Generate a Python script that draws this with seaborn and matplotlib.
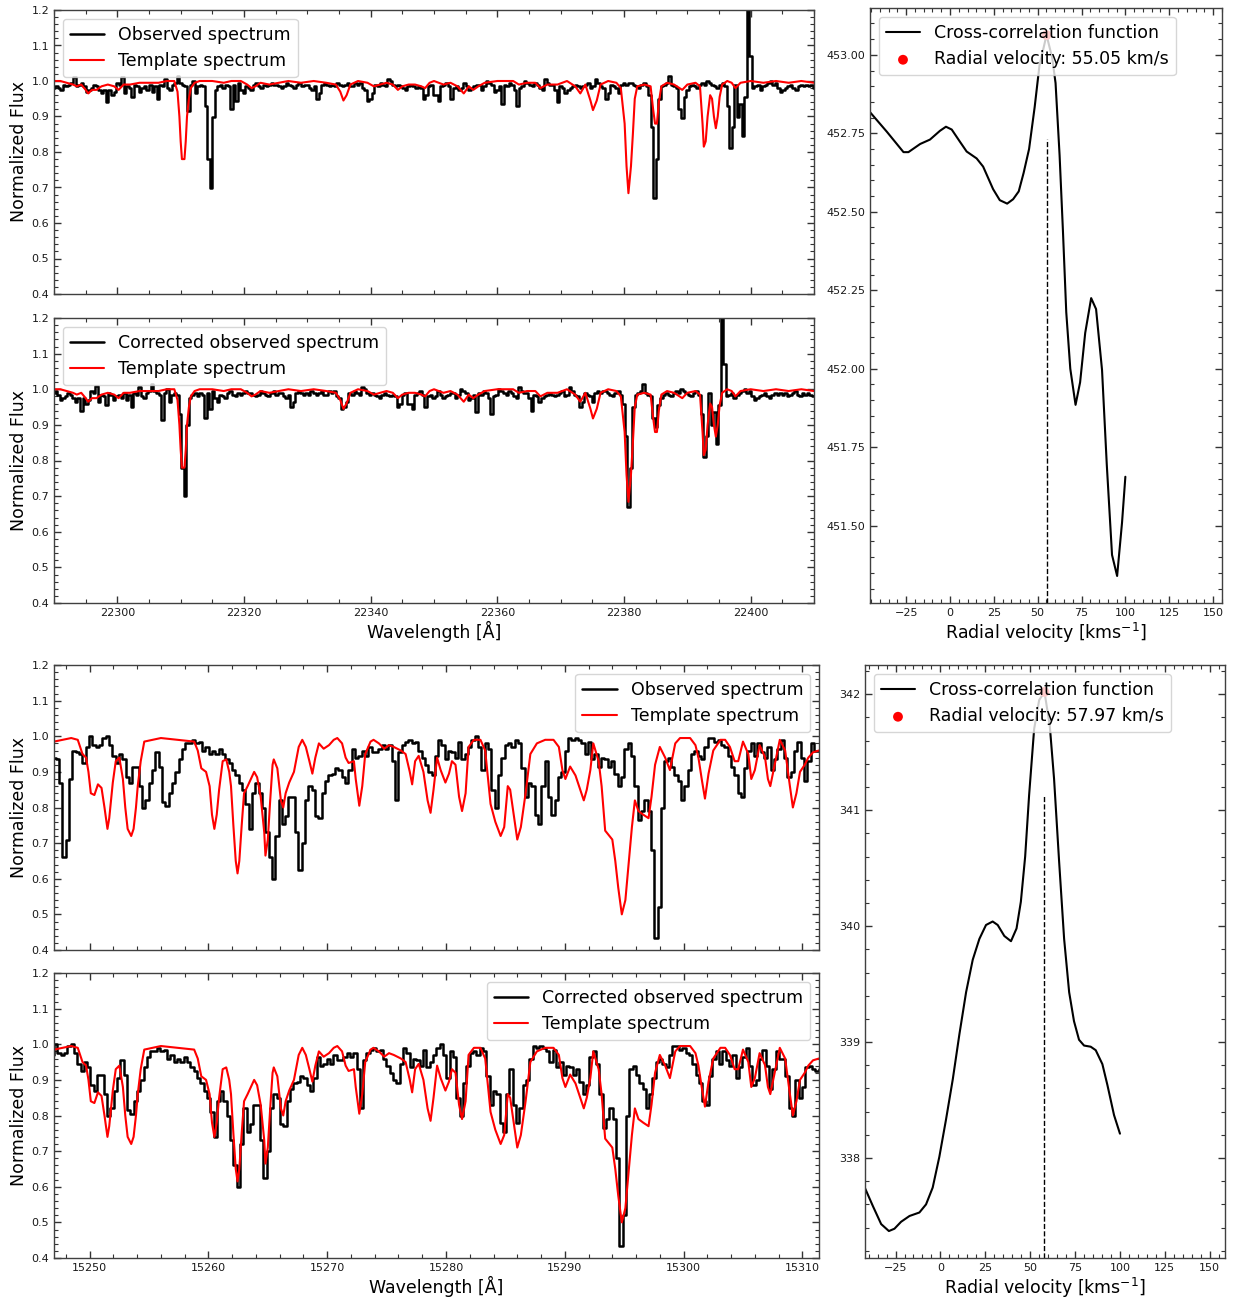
import numpy as np
import matplotlib
matplotlib.use("Agg")
import matplotlib.pyplot as plt
from matplotlib.ticker import MultipleLocator, AutoMinorLocator
import seaborn as sns

C_KMS = 299792.458

# ---------------- K band: observed spectrum (uniform pixel grid) ----------------
k_obs_start = 22289.2
k_obs_step = 0.4
k_obs_flux = [
    0.98, 0.975, 0.98, 0.985, 0.98, 0.975, 0.99, 0.985, 0.99, 0.995,
    1.01, 0.985, 0.99, 0.995, 0.985, 0.97, 0.975, 0.98, 0.99, 0.985,
    0.975, 0.965, 0.975, 0.94, 0.975, 0.96, 0.97, 0.995, 0.99, 1.01,
    0.965, 0.985, 0.98, 0.955, 0.99, 0.985, 0.97, 0.98, 0.985, 0.975,
    0.99, 0.97, 0.985, 0.95, 0.99, 0.985, 1.005, 0.98, 0.975, 0.99,
    0.995, 1.015, 0.995, 0.99, 0.985, 0.915, 0.99, 1.0, 0.965, 0.985,
    0.99, 0.985, 0.93, 0.78, 0.70, 0.90, 0.975, 0.985, 0.99, 0.98,
    0.99, 0.985, 0.92, 0.99, 0.945, 0.995, 0.975, 0.965, 0.985, 0.98,
    0.975, 0.99, 0.995, 0.985, 0.98, 0.99, 0.985, 0.99, 0.995, 0.99,
    0.99, 0.985, 0.98, 0.985, 0.995, 0.99, 0.985, 0.98, 0.99, 0.995,
    0.985, 0.99, 0.99, 0.98, 0.975, 0.985, 0.95, 0.965, 0.99, 0.995,
    0.99, 0.985, 0.99, 0.985, 0.995, 0.99, 0.985, 0.99, 0.995, 0.985,
    0.985, 0.995, 0.99, 0.995, 0.98, 0.975, 0.945, 0.95, 0.965, 0.99,
    0.985, 0.995, 0.99, 0.985, 1.005, 1.0, 0.99, 0.985, 0.99, 0.985,
    0.98, 0.975, 0.985, 0.99, 0.985, 0.98, 0.985, 0.98, 0.95, 0.96,
    0.985, 0.99, 0.96, 0.96, 0.945, 0.985, 0.99, 0.995, 0.985, 0.95,
    0.98, 0.985, 0.975, 0.98, 0.995, 0.985, 0.975, 0.98, 0.985, 0.99,
    0.99, 0.975, 0.985, 1.0, 0.995, 0.99, 0.97, 0.975, 0.985, 0.935,
    0.99, 0.985, 0.995, 0.99, 0.975, 0.93, 0.98, 0.985, 1.0, 0.995,
    0.99, 0.985, 0.995, 0.99, 0.98, 0.975, 1.005, 0.995, 0.99, 0.99,
    0.975, 0.94, 0.985, 0.98, 0.965, 0.975, 0.98, 0.985, 0.99, 0.985,
    0.98, 0.985, 0.99, 0.995, 0.98, 0.985, 1.005, 0.995, 0.985, 0.98,
    0.95, 0.965, 0.99, 0.985, 0.98, 0.965, 0.99, 0.995, 0.99, 0.995,
    0.995, 0.99, 0.985, 0.98, 0.99, 0.995, 0.985, 0.96, 0.87, 0.67,
    0.78, 0.95, 0.985, 0.99, 0.995, 1.015, 0.99, 0.985, 0.98, 0.92,
    0.895, 0.955, 0.975, 0.985, 0.99, 0.985, 0.98, 0.99, 0.995, 0.99,
    1.0, 0.995, 0.99, 0.985, 0.98, 0.99, 0.995, 0.985, 0.93, 0.81,
    0.87, 0.99, 0.90, 0.935, 0.845, 0.955, 1.35, 1.07, 0.98, 0.985,
    0.99, 0.975, 0.985, 0.99, 0.995, 1.0, 0.99, 0.995, 0.98, 0.97,
    0.975, 0.98, 0.985, 0.99, 0.98, 0.975, 0.985, 0.99, 0.985, 0.99,
    0.985, 0.99, 0.98, 0.985, 0.99, 0.995, 0.985, 0.98, 0.99, 0.985,
    0.99, 0.985, 0.98, 0.99, 0.985,
]

# K band template spectrum: (wavelength [A], normalized flux)
k_template_points = [
    (22290.0, 1.0), (22291.0, 1.0), (22292.0, 0.995), (22293.0, 0.99), (22293.6, 0.985),
    (22294.3, 0.99), (22295.0, 0.975), (22295.4, 0.965), (22296.0, 0.975), (22296.7, 0.975),
    (22297.5, 0.985), (22298.5, 0.99), (22299.5, 0.985), (22300.2, 0.975), (22301.0, 0.99),
    (22302.0, 0.99), (22303.5, 0.995), (22305.0, 0.995), (22306.5, 0.995), (22307.8, 1.0),
    (22309.0, 1.0), (22309.5, 0.97), (22309.8, 0.90), (22310.0, 0.83), (22310.2, 0.78),
    (22310.6, 0.78), (22310.8, 0.83), (22311.0, 0.90), (22311.3, 0.95), (22311.6, 0.98),
    (22312.2, 0.995), (22313.0, 1.0), (22315.0, 1.0), (22316.8, 0.995), (22318.0, 1.0),
    (22319.5, 1.0), (22320.5, 0.99), (22321.2, 0.98), (22321.8, 0.985), (22322.6, 0.995),
    (22324.0, 0.99), (22325.5, 0.995), (22327.0, 1.0), (22329.0, 0.995), (22331.0, 1.0),
    (22333.0, 0.995), (22334.5, 0.99), (22335.2, 0.97), (22335.7, 0.945), (22336.2, 0.96),
    (22336.8, 0.99), (22338.0, 1.0), (22339.5, 0.995), (22340.5, 0.985), (22341.5, 0.99),
    (22342.5, 0.995), (22343.5, 0.99), (22344.3, 0.975), (22345.0, 0.985), (22346.0, 0.99),
    (22347.0, 0.99), (22348.0, 0.985), (22348.6, 0.98), (22349.3, 0.995), (22350.0, 1.0),
    (22351.5, 0.99), (22352.6, 0.995), (22353.7, 0.985), (22354.7, 0.965), (22355.5, 0.985),
    (22356.2, 0.975), (22357.0, 0.985), (22358.0, 0.995), (22360.0, 1.0), (22362.5, 1.0),
    (22363.4, 0.99), (22364.7, 0.995), (22366.0, 0.995), (22366.8, 0.98), (22367.9, 0.99),
    (22369.5, 0.99), (22371.0, 1.0), (22372.3, 0.985), (22373.1, 0.965), (22373.9, 0.99),
    (22374.7, 0.945), (22375.1, 0.918), (22375.7, 0.945), (22376.3, 0.99), (22377.5, 1.0),
    (22378.8, 0.995), (22379.5, 0.98), (22380.1, 0.88), (22380.4, 0.76), (22380.7, 0.684),
    (22381.1, 0.76), (22381.4, 0.85), (22381.7, 0.95), (22382.1, 0.985), (22383.2, 0.99),
    (22384.2, 0.985), (22384.6, 0.92), (22384.9, 0.88), (22385.2, 0.88), (22385.5, 0.94),
    (22385.9, 0.985), (22386.8, 0.995), (22387.9, 0.99), (22389.2, 0.975), (22390.0, 0.99),
    (22391.3, 0.995), (22392.0, 0.985), (22392.4, 0.88), (22392.6, 0.815), (22392.9, 0.83),
    (22393.2, 0.90), (22393.6, 0.96), (22393.9, 0.95), (22394.2, 0.90), (22394.5, 0.867),
    (22394.8, 0.90), (22395.1, 0.955), (22395.5, 0.99), (22396.3, 1.0), (22397.0, 0.995),
    (22397.6, 0.98), (22398.4, 0.995), (22400.0, 1.0), (22402.0, 0.995), (22404.0, 1.0),
    (22406.0, 0.995), (22408.0, 1.0), (22410.0, 0.995),
]

# K band cross-correlation function
k_ccf_rv = [-46, -36, -26.5, -23.7, -17, -11.4, -5.7, -2.3, 1, 5.7, 9.5, 15.2, 18.9, 24.6,
            28.4, 32.6, 36, 39.2, 42, 45.1, 48.3, 51, 55.05, 58.3, 60.2, 62.5, 64.4, 66.3,
            68.6, 71.6, 74.2, 77.1, 80.5, 83.3, 86.7, 89.4, 92.4, 95.3, 98.1, 100]
k_ccf = [452.82, 452.755, 452.69, 452.69, 452.716, 452.73, 452.758, 452.771, 452.762,
         452.723, 452.692, 452.67, 452.644, 452.572, 452.537, 452.526, 452.54, 452.565,
         452.624, 452.70, 452.834, 452.965, 453.063, 452.99, 452.91, 452.68, 452.44,
         452.18, 452.0, 451.885, 451.957, 452.114, 452.225, 452.19, 451.996, 451.695,
         451.407, 451.34, 451.51, 451.656]
k_rv = 55.05
k_ccf_peak = 453.063

# ---------------- H band: observed spectrum (uniform pixel grid) ----------------
h_obs_start = 15247.0
h_obs_step = 0.28
h_obs_flux = [
    0.94, 0.935, 0.87, 0.66, 0.71, 0.88, 0.96, 0.955, 0.95, 0.925,
    0.97, 1.0, 0.975, 0.97, 0.975, 0.995, 1.0, 0.975, 0.945, 0.925,
    0.95, 0.935, 0.886, 0.87, 0.915, 0.915, 0.86, 0.80, 0.82, 0.87,
    0.905, 0.955, 0.915, 0.815, 0.805, 0.84, 0.87, 0.90, 0.935, 0.965,
    0.98, 0.98, 0.99, 0.98, 0.985, 0.96, 0.97, 0.95, 0.96, 0.95,
    0.965, 0.95, 0.935, 0.925, 0.905, 0.89, 0.87, 0.85, 0.81, 0.74,
    0.84, 0.87, 0.84, 0.80, 0.73, 0.66, 0.60, 0.72, 0.82, 0.755,
    0.775, 0.83, 0.83, 0.73, 0.625, 0.70, 0.82, 0.86, 0.85, 0.775,
    0.77, 0.84, 0.875, 0.89, 0.895, 0.91, 0.905, 0.885, 0.87, 0.905,
    0.965, 0.94, 0.945, 0.96, 0.945, 0.97, 0.955, 0.955, 0.965, 0.975,
    0.965, 0.975, 0.93, 0.82, 0.955, 0.975, 0.985, 0.99, 0.98, 0.985,
    0.96, 0.94, 0.92, 0.90, 0.89, 0.945, 0.99, 0.975, 0.935, 0.96,
    0.955, 0.94, 0.985, 0.935, 0.95, 0.97, 0.99, 1.0, 0.97, 0.905,
    0.98, 0.965, 0.85, 0.80, 0.89, 0.94, 0.975, 0.98, 0.97, 0.99,
    0.98, 0.91, 0.83, 0.87, 0.86, 0.78, 0.755, 0.86, 0.93, 0.83,
    0.78, 0.82, 0.885, 0.90, 0.96, 0.995, 0.99, 0.995, 0.99, 0.98,
    0.95, 0.985, 0.935, 0.95, 0.915, 0.94, 0.935, 0.915, 0.93, 0.895,
    0.86, 0.885, 0.965, 0.98, 0.945, 0.86, 0.765, 0.79, 0.82, 0.79,
    0.68, 0.435, 0.52, 0.80, 0.93, 0.94, 0.915, 0.89, 0.875, 0.82,
    0.86, 0.905, 0.95, 0.96, 0.945, 0.935, 0.97, 0.995, 0.995, 0.985,
    0.99, 0.975, 0.97, 0.945, 0.915, 0.89, 0.84, 0.83, 0.91, 0.96,
    0.98, 0.945, 0.98, 0.955, 0.94, 0.97, 0.905, 0.935, 0.965, 0.99,
    0.94, 0.885, 0.90, 0.96, 0.985, 0.94, 0.875, 0.93, 0.98, 0.96,
    0.96, 0.91, 0.82, 0.80, 0.90, 0.85, 0.88, 0.935, 0.94, 0.93,
    0.925, 0.93,
]

# H band template spectrum: (wavelength [A], normalized flux)
h_template_points = [
    (15247.0, 0.985), (15248.45, 0.995), (15249.0, 0.99), (15249.4, 0.95), (15249.7, 0.94),
    (15249.9, 0.90), (15250.1, 0.84), (15250.4, 0.835), (15250.7, 0.865), (15251.0, 0.855),
    (15251.25, 0.80), (15251.5, 0.74), (15251.65, 0.77), (15251.95, 0.87), (15252.2, 0.93),
    (15252.5, 0.94), (15252.8, 0.88), (15253.0, 0.80), (15253.2, 0.74), (15253.5, 0.72),
    (15253.7, 0.74), (15253.9, 0.80), (15254.05, 0.86), (15254.3, 0.93), (15254.6, 0.985),
    (15256.0, 0.995), (15257.4, 0.99), (15258.8, 0.985), (15259.1, 0.96), (15259.4, 0.91),
    (15259.8, 0.90), (15260.1, 0.86), (15260.3, 0.78), (15260.5, 0.74), (15260.7, 0.78),
    (15260.9, 0.85), (15261.2, 0.93), (15261.5, 0.935), (15261.75, 0.90), (15261.9, 0.86),
    (15262.1, 0.75), (15262.3, 0.65), (15262.45, 0.615), (15262.6, 0.65), (15262.8, 0.75),
    (15263.0, 0.84), (15263.3, 0.86), (15263.85, 0.90), (15264.1, 0.885), (15264.4, 0.83),
    (15264.7, 0.73), (15264.8, 0.665), (15265.0, 0.71), (15265.2, 0.82), (15265.4, 0.92),
    (15265.5, 0.935), (15265.8, 0.91), (15266.1, 0.82), (15266.3, 0.80), (15266.5, 0.84),
    (15266.8, 0.87), (15267.2, 0.90), (15267.6, 0.97), (15267.9, 0.99), (15268.2, 0.97),
    (15268.5, 0.93), (15268.75, 0.895), (15269.0, 0.94), (15269.3, 0.98), (15269.7, 0.965),
    (15270.15, 0.975), (15270.55, 0.99), (15270.85, 0.995), (15271.25, 0.98), (15271.55, 0.94),
    (15271.8, 0.925), (15272.25, 0.93), (15272.4, 0.88), (15272.7, 0.805), (15272.95, 0.86),
    (15273.2, 0.95), (15273.65, 0.985), (15273.9, 0.99), (15274.35, 0.98), (15274.8, 0.965),
    (15275.2, 0.975), (15275.6, 0.97), (15276.2, 0.96), (15276.6, 0.95), (15276.95, 0.90),
    (15277.15, 0.865), (15277.4, 0.93), (15277.7, 0.945), (15278.1, 0.90), (15278.45, 0.82),
    (15278.7, 0.785), (15278.95, 0.85), (15279.25, 0.94), (15279.55, 0.905), (15279.95, 0.87),
    (15280.25, 0.895), (15280.5, 0.93), (15280.8, 0.92), (15281.1, 0.83), (15281.35, 0.79),
    (15281.65, 0.84), (15281.9, 0.97), (15282.35, 0.99), (15282.9, 0.99), (15283.3, 0.96),
    (15283.75, 0.81), (15284.15, 0.76), (15284.6, 0.72), (15284.9, 0.745), (15285.2, 0.86),
    (15285.4, 0.85), (15285.7, 0.78), (15286.0, 0.71), (15286.3, 0.745), (15286.7, 0.84),
    (15287.1, 0.95), (15287.65, 0.98), (15288.35, 0.99), (15289.05, 0.99), (15289.5, 0.97),
    (15289.8, 0.905), (15290.05, 0.88), (15290.45, 0.915), (15290.9, 0.89), (15291.3, 0.85),
    (15291.6, 0.82), (15291.85, 0.85), (15292.15, 0.905), (15292.4, 0.98), (15292.85, 0.93),
    (15293.1, 0.86), (15293.4, 0.735), (15294.0, 0.71), (15294.25, 0.65), (15294.5, 0.575),
    (15294.8, 0.50), (15295.1, 0.54), (15295.4, 0.65), (15295.65, 0.745), (15295.9, 0.82),
    (15296.2, 0.79), (15296.6, 0.78), (15297.05, 0.77), (15297.3, 0.83), (15297.6, 0.92),
    (15298.0, 0.97), (15298.45, 0.94), (15298.85, 0.905), (15299.3, 0.98), (15299.7, 0.995),
    (15300.55, 0.995), (15301.0, 0.975), (15301.25, 0.94), (15301.55, 0.875), (15301.8, 0.825),
    (15302.1, 0.895), (15302.5, 0.96), (15303.1, 0.99), (15303.5, 0.99), (15303.9, 0.97),
    (15304.3, 0.93), (15304.6, 0.93), (15305.0, 0.985), (15305.45, 0.95), (15305.7, 0.88),
    (15306.0, 0.905), (15306.4, 0.975), (15306.85, 0.942), (15307.1, 0.88), (15307.3, 0.86),
    (15307.7, 0.925), (15308.1, 0.99), (15308.55, 0.96), (15308.95, 0.86), (15309.2, 0.80),
    (15309.5, 0.84), (15309.8, 0.90), (15310.2, 0.92), (15310.5, 0.94), (15310.9, 0.955),
    (15311.4, 0.96),
]

# H band cross-correlation function
h_ccf_rv = [-42, -37.6, -33, -28.7, -25.6, -21.9, -17.2, -11.7, -8, -4.3, -0.6, 3.1, 6.9,
            10.6, 14.3, 18, 21.7, 25.4, 29.1, 31.9, 35.6, 39.3, 42.4, 44.8, 47.2, 49.4,
            52.2, 55, 57.97, 60.9, 63.3, 66.1, 68.9, 71.7, 74.4, 77.2, 80, 83.7, 86.5,
            90.2, 93, 96.7, 100]
h_ccf = [337.74, 337.585, 337.43, 337.37, 337.39, 337.45, 337.50, 337.53, 337.60, 337.745,
         338.01, 338.33, 338.68, 339.07, 339.43, 339.71, 339.89, 340.01, 340.04, 340.01,
         339.915, 339.87, 339.98, 340.21, 340.60, 341.13, 341.70, 341.95, 342.02, 341.73,
         341.27, 340.56, 339.89, 339.43, 339.18, 339.02, 338.97, 338.96, 338.93, 338.81,
         338.63, 338.37, 338.21]
h_rv = 57.97
h_ccf_peak = 342.02


# ---------------- styling ----------------
sns.set_style("ticks")
plt.rcParams["font.family"] = ["DejaVu Sans"]
plt.rcParams["text.color"] = "black"
plt.rcParams["axes.labelcolor"] = "black"

W, H = 1237, 1299
fig = plt.figure(figsize=(W / 100, H / 100), dpi=100)


def add_axes_px(x0, y0, x1, y1):
    return fig.add_axes([x0 / W, 1 - y1 / H, (x1 - x0) / W, (y1 - y0) / H])


def style_axis(ax, xmajor, ymajor):
    ax.xaxis.set_major_locator(MultipleLocator(xmajor))
    ax.yaxis.set_major_locator(MultipleLocator(ymajor))
    ax.xaxis.set_minor_locator(AutoMinorLocator())
    ax.yaxis.set_minor_locator(AutoMinorLocator())
    ax.tick_params(which="both", direction="in", top=True, right=True,
                   labelsize=8, color="0.2", labelcolor="0.1")
    ax.tick_params(which="major", length=5, width=1)
    ax.tick_params(which="minor", length=3, width=0.8)
    for sp in ax.spines.values():
        sp.set_color("0.25")
        sp.set_linewidth(1.0)


def spectrum_panel(ax, wave, flux, t_wave, t_flux, obs_label, xlim, xmajor, loc, show_xlabel):
    sns.lineplot(x=wave, y=flux, color="black", lw=1.8, drawstyle="steps-mid",
                 estimator=None, label=obs_label, ax=ax)
    sns.lineplot(x=t_wave, y=t_flux, color="red", lw=1.5, estimator=None,
                 label="Template spectrum", ax=ax)
    ax.set_xlim(*xlim)
    ax.set_ylim(0.4, 1.2)
    ax.set_ylabel("Normalized Flux", fontsize=12.5, labelpad=2.5)
    style_axis(ax, xmajor, 0.1)
    if show_xlabel:
        ax.set_xlabel("Wavelength [Å]", fontsize=12.5, labelpad=2)
    else:
        ax.set_xlabel("")
        ax.tick_params(labelbottom=False)
    ax.legend(loc=loc, fontsize=12.5)


def ccf_panel(ax, rv_grid, ccf, rv, peak, xlim, ymajor):
    sns.lineplot(x=rv_grid, y=ccf, color="black", lw=1.5, estimator=None,
                 label="Cross-correlation function", ax=ax)
    sns.scatterplot(x=[rv], y=[peak], color="red", s=50, edgecolor="none",
                    label=f"Radial velocity: {rv:.2f} km/s", ax=ax, zorder=3)
    ax.axvline(rv, ymin=0, ymax=0.78, color="black", ls="--", lw=1.0)
    ax.set_xlim(*xlim)
    style_axis(ax, 25, ymajor)
    ax.set_xlabel(r"Radial velocity [kms$^{-1}$]", fontsize=12.5, labelpad=2)
    ax.set_ylabel("")
    ax.legend(loc="upper left", fontsize=12.5)


# K band block
k_wave = k_obs_start + k_obs_step * np.arange(len(k_obs_flux))
k_tw = [p[0] for p in k_template_points]
k_tf = [p[1] for p in k_template_points]
k_wave_rest = k_wave / (1 + k_rv / C_KMS)

ax1 = add_axes_px(54, 10, 814, 294)
spectrum_panel(ax1, k_wave, k_obs_flux, k_tw, k_tf, "Observed spectrum",
               (22290, 22410), 20, "upper left", False)
ax2 = add_axes_px(54, 318, 814, 603)
spectrum_panel(ax2, k_wave_rest, k_obs_flux, k_tw, k_tf, "Corrected observed spectrum",
               (22290, 22410), 20, "upper left", True)
ax3 = add_axes_px(870, 8, 1222, 603)
ccf_panel(ax3, k_ccf_rv, k_ccf, k_rv, k_ccf_peak, (-45.6, 155.1), 0.25)

# H band block
h_wave = h_obs_start + h_obs_step * np.arange(len(h_obs_flux))
h_tw = [p[0] for p in h_template_points]
h_tf = [p[1] for p in h_template_points]
h_wave_rest = h_wave / (1 + h_rv / C_KMS)

ax4 = add_axes_px(54, 665, 819, 950)
spectrum_panel(ax4, h_wave, h_obs_flux, h_tw, h_tf, "Observed spectrum",
               (15247.0, 15311.4), 10, "upper right", False)
ax5 = add_axes_px(54, 973, 819, 1258)
spectrum_panel(ax5, h_wave_rest, h_obs_flux, h_tw, h_tf, "Corrected observed spectrum",
               (15247.0, 15311.4), 10, "upper right", True)
ax6 = add_axes_px(865, 665, 1225, 1258)
ccf_panel(ax6, h_ccf_rv, h_ccf, h_rv, h_ccf_peak, (-42, 158.5), 1)

fig.savefig("out.png", dpi=100)
